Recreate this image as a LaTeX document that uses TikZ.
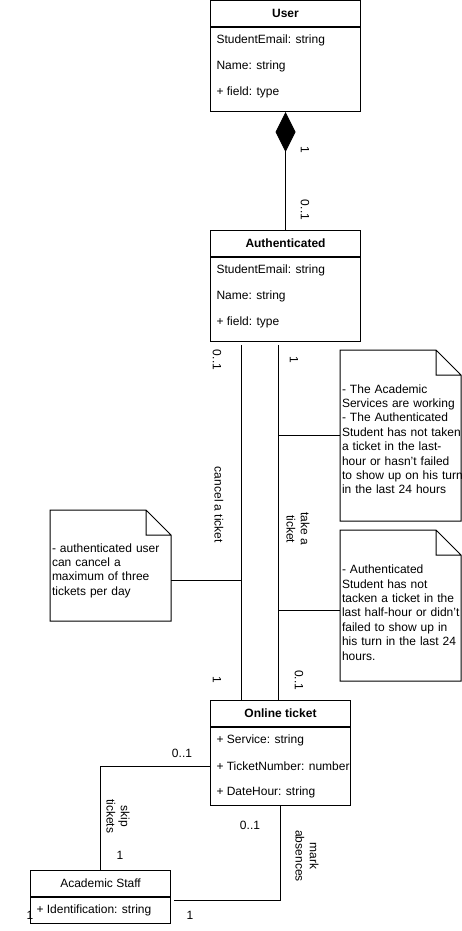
\documentclass[tikz,border=0pt]{standalone}
\usepackage{fontspec}
\setmainfont{Liberation Sans}
\usetikzlibrary{arrows.meta,positioning,calc}
\tikzset{every picture/.style={line width=1pt}}
\tikzset{
  classhead/.style={draw, anchor=north west, minimum height=26pt, inner sep=0pt, font=\fontsize{12}{14.4}\selectfont\bfseries},
  classbody/.style={draw, anchor=north west, inner sep=0pt},
  attr/.style={anchor=west, inner sep=0pt, font=\fontsize{12}{14.4}\selectfont},
  mult/.style={inner sep=0pt, font=\fontsize{12}{14.4}\selectfont},
  rlabel/.style={inner sep=0pt, rotate=-90, align=center, font=\fontsize{12}{14.4}\selectfont},
  notebox/.style={anchor=north west, minimum width=120pt, text width=117pt, align=left, inner sep=1.5pt, font=\fontsize{12}{14.4}\selectfont},
}

\begin{document}
\begin{tikzpicture}[x=1pt, y=-1pt]
    \useasboundingbox (0,0) rectangle (461,931);

    % classe User
    \node[classhead, minimum width=150pt] (userhead) at (210,0) {User};
    \node[classbody, minimum width=150pt, minimum height=84pt] (userbody) at (userhead.south west) {};
    \node[attr] (userA) at (216,40) {StudentEmail: string};
    \node[attr] (userB) at (216,66) {Name: string};
    \node[attr] (userC) at (216,92) {+ field: type};

    % classe Authenticated
    \node[classhead, minimum width=150pt] (authhead) at (210,230) {Authenticated};
    \node[classbody, minimum width=150pt, minimum height=84pt] (authbody) at (authhead.south west) {};
    \node[attr] (authA) at (216,270) {StudentEmail: string};
    \node[attr] (authB) at (216,296) {Name: string};
    \node[attr] (authC) at (216,322) {+ field: type};

    % classe Online ticket
    \node[classhead, minimum width=140pt] (tickethead) at (210,700) {Online ticket};
    \node[classbody, minimum width=140pt, minimum height=78pt] (ticketbody) at (tickethead.south west) {};
    \node[attr] (ticketA) at (216,740) {+ Service: string};
    \node[attr] (ticketB) at (216,766) {+ TicketNumber: number};
    \node[attr] (ticketC) at (216,792) {+ DateHour: string};

    % classe Academic Staff
    \node[classhead, minimum width=140pt, font=\fontsize{12}{14.4}\selectfont] (staffhead) at (30,870) {Academic Staff};
    \node[classbody, minimum width=140pt, minimum height=26pt] (staffbody) at (staffhead.south west) {};
    \node[attr] (staffA) at (36,910) {+ Identification: string};

    % composizione User - Authenticated
    \draw[-{Diamond[length=40pt,width=20pt]}] (authhead.north) -- (userbody.south);
    \node[rlabel] (m1) at (305,150) {1};
    \node[rlabel] (m2) at (305,210) {0..1};

    % associazioni Authenticated - Online ticket
    \coordinate (cancelTop) at ([xshift=31pt,yshift=-3pt]authbody.south west);
    \coordinate (takeTop) at ([xshift=68pt,yshift=-3pt]authbody.south west);
    \draw (cancelTop) -- (cancelTop |- tickethead.north);
    \draw (takeTop) -- (takeTop |- tickethead.north);
    \node[rlabel] (m3) at (217,360) {0..1};
    \node[rlabel] (m4) at (294,360) {1};
    \node[rlabel] (m5) at (217,680) {1};
    \node[rlabel] (m6) at (299,680) {0..1};
    \node[rlabel] (cancel) at (219,505) {cancel a ticket};
    \node[rlabel] (take) at (298,529) {take a\\ticket};

    % note
    \node[notebox, minimum height=170pt] (note1) at (340,350) {\rule{0pt}{16pt}\mbox{- The Academic}\\\mbox{Services are working}\\\mbox{- The Authenticated}\\\mbox{Student has not taken}\\\mbox{a ticket in the last-}\\\mbox{hour or hasn't failed}\\\mbox{to show up on his turn}\\\mbox{in the last 24 hours}};
    \node[notebox, minimum height=150pt] (note2) at (340,530) {\rule{0pt}{23pt}\mbox{- Authenticated}\\\mbox{Student has not}\\\mbox{tacken a ticket in the}\\\mbox{last half-hour or didn't}\\\mbox{failed to show up in}\\\mbox{his turn in the last 24}\\\mbox{hours.}};
    \node[notebox, minimum height=110pt] (note3) at (50,510) {\rule{0pt}{19pt}\mbox{- authenticated user}\\\mbox{can cancel a}\\\mbox{maximum of three}\\\mbox{tickets per day}};
    \foreach \n in {note1,note2,note3}
        \draw (\n.north west) -- ([xshift=-25pt]\n.north east) -- ([yshift=-25pt]\n.north east)
              -- (\n.south east) -- (\n.south west) -- cycle
              ([xshift=-25pt]\n.north east) |- ([yshift=-25pt]\n.north east);
    \draw (note1.west) -- (note1.west -| takeTop);
    \draw ([yshift=-5pt]note2.west) -- ([yshift=-5pt]note2.west -| takeTop);
    \draw ([yshift=-15pt]note3.east) -- ([yshift=-15pt]note3.east -| cancelTop);

    % associazioni con Academic Staff
    \draw (ticketbody.west) -| (staffhead.north);
    \node[mult] (m7) at (182,753) {0..1};
    \node[mult] (m8) at (120,855) {1};
    \node[rlabel] (skip) at (118,816) {skip\\tickets};
    \coordinate (absEnd) at (174,900);
    \draw (ticketbody.south) |- (absEnd);
    \node[mult] (m9) at (250,825) {0..1};
    \node[mult] (m10) at (190,915) {1};
    \node[mult] (m11) at (30,915) {1};
    \node[rlabel] (mark) at (307,856) {mark\\absences};
\end{tikzpicture}
\end{document}
